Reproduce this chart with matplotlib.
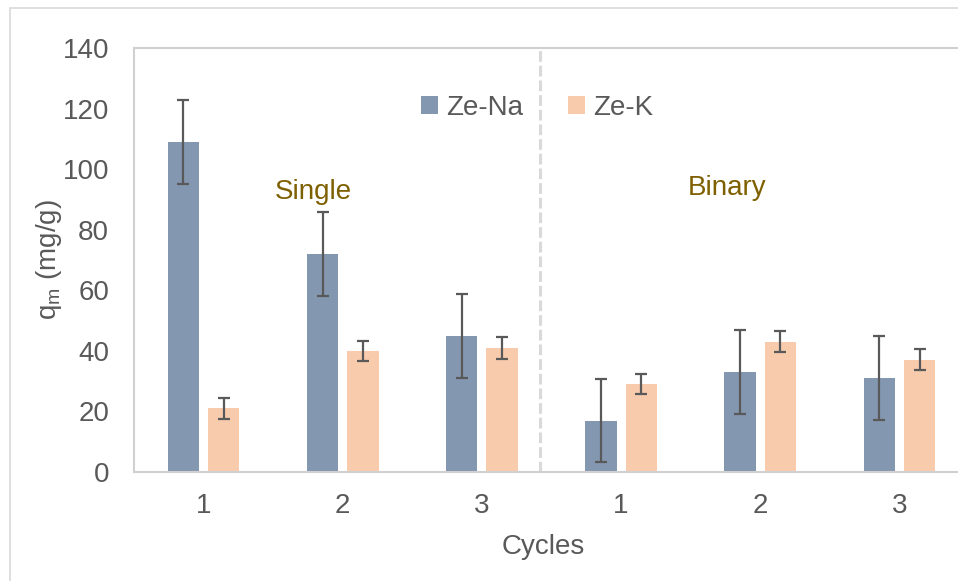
import numpy as np
import matplotlib.pyplot as plt
from matplotlib.patches import Rectangle

plt.rcParams['font.family'] = ['Liberation Sans Narrow', 'Liberation Sans', 'DejaVu Sans']
plt.rcParams['mathtext.default'] = 'regular'

cycles = ["1", "2", "3", "1", "2", "3"]
ze_na = [109, 72, 45, 17, 33, 31]
ze_na_err = [13.8, 13.8, 13.8, 13.8, 13.9, 13.8]
ze_k = [21, 40, 41, 29, 43, 37]
ze_k_err = [3.5, 3.4, 3.6, 3.4, 3.45, 3.45]
groups = ["Single", "Binary"]

W, H = 958, 581
fig = plt.figure(figsize=(W / 100, H / 100), dpi=100)

# plot area runs past the right edge of the picture, as in the reference
ax = fig.add_axes([134 / W, 1 - 472 / H, 835 / W, 424 / H])

x = np.arange(len(cycles))
bw = 0.225
off = 0.145
grey = '#595959'
fs = 20

ax.bar(x - off, ze_na, bw, color='#8497B0', label='Ze-Na', zorder=2)
ax.bar(x + off, ze_k, bw, color='#F8CBAD', label='Ze-K', zorder=2)
ax.errorbar(x - off, ze_na, yerr=ze_na_err, fmt='none', ecolor=grey,
            elinewidth=1.6, capsize=4, capthick=1.6, zorder=3)
ax.errorbar(x + off, ze_k, yerr=ze_k_err, fmt='none', ecolor=grey,
            elinewidth=1.6, capsize=4, capthick=1.6, zorder=3)

# separator between single and binary runs
ax.axvline(2.42, color='#d9d9d9', lw=2.2, dashes=(3.5, 1.3), zorder=1)

ax.set_xlim(-0.5, 5.5)
ax.set_ylim(0, 140)
ax.set_yticks(np.arange(0, 141, 20))
ax.set_xticks(x)
ax.set_xticklabels(cycles)
ax.tick_params(length=0, labelsize=fs, labelcolor=grey)
ax.tick_params(axis='x', pad=15)
ax.tick_params(axis='y', pad=18)

for s in ['left', 'top', 'bottom', 'right']:
    ax.spines[s].set_color('#d0d0d0')
    ax.spines[s].set_linewidth(1.5)

ax.set_xlabel('Cycles', fontsize=fs, color=grey)
ax.xaxis.set_label_coords((543 - 134) / 835, (471.7 - 534) / 424)
ax.set_ylabel('q$_{m}$ (mg/g)', fontsize=fs, color=grey)
ax.yaxis.set_label_coords((64 - 134) / 835, 0.5)

ax.text(0.786, 90.3, groups[0], ha='center', va='baseline', fontsize=fs, color='#7F6000')
ax.text(3.764, 91.3, groups[1], ha='center', va='baseline', fontsize=fs, color='#7F6000')

ax.legend(loc='center left', bbox_to_anchor=(421 / W, 1 - 108 / H),
          bbox_transform=fig.transFigure, ncol=2, frameon=False, fontsize=fs,
          labelcolor=grey, handlelength=0.62, handleheight=0.62,
          handletextpad=0.3, columnspacing=1.6, borderpad=0, borderaxespad=0)

# light outer chart border
fig.patches.append(Rectangle((10 / W, -0.1), 1.2, 1.1 - 8 / H, transform=fig.transFigure,
                             fill=False, edgecolor='#d9d9d9', lw=1.2))

fig.savefig('out.png', dpi=100)
